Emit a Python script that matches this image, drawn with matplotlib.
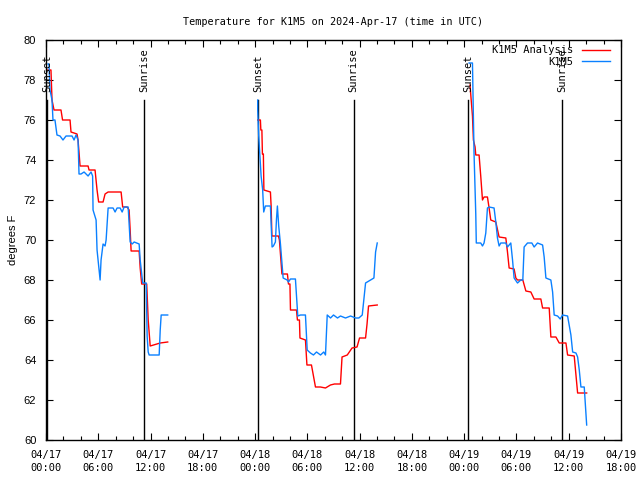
"""
Temperature for K1M5: analysis vs. observed, with sunset/sunrise markers.
"""

import numpy as np
import matplotlib
matplotlib.use('Agg')
import matplotlib.pyplot as plt
from matplotlib.ticker import MultipleLocator

NAN = np.nan

# hours since 04/17 00:00 UTC
analysis_hours = [
    0.11, 0.57, 0.69, 0.92, 1.72, 1.90, 2.76, 2.87, 3.56, 3.68, 3.91, 4.83, 4.94,
    5.63, 5.86, 6.04, 6.55, 6.78, 7.13, 8.62, 8.80, 9.31, 9.54, 9.66, 9.77, 10.69,
    10.81, 10.98, 11.56, 11.73, 11.96, 13.11, 13.97,
    NAN,
    24.30, 24.61, 24.66, 24.78, 24.84, 24.95, 25.01, 25.76, 25.84, 25.93, 26.68,
    26.79, 27.08, 27.71, 27.83, 28.00, 28.06, 28.75, 28.86, 29.09, 29.15, 29.78,
    29.95, 30.47, 30.70, 30.93, 31.50, 32.08, 32.65, 33.11, 33.80, 33.98, 34.58,
    35.13, 35.70, 35.99, 36.68, 36.85, 37.02, 38.02,
    NAN,
    48.67, 48.75, 48.95, 49.06, 49.25, 49.33, 49.71, 49.90, 50.10, 50.28, 50.67,
    50.86, 51.05, 51.63, 52.01, 52.78, 52.97, 53.16, 53.73, 53.93, 54.12, 54.73,
    55.08, 55.65, 56.03, 56.80, 57.00, 57.76, 57.95, 58.53, 58.91, 59.68, 59.87,
    60.63, 60.83, 61.02, 62.06,
]
analysis_temp = [
    78.5, 78.5, 77.0, 76.5, 76.5, 76.0, 76.0, 75.4, 75.3, 75.0, 73.7, 73.7, 73.5,
    73.5, 72.5, 71.9, 71.9, 72.3, 72.4, 72.4, 71.65, 71.65, 71.5, 70.5, 69.45, 69.45,
    68.6, 67.8, 67.8, 66.0, 64.7, 64.85, 64.9,
    NAN,
    76.0, 76.0, 75.5, 75.5, 74.3, 74.3, 72.5, 72.4, 71.7, 70.2, 70.2,
    70.0, 68.3, 68.3, 67.8, 67.8, 66.5, 66.5, 66.0, 66.0, 65.1, 65.0,
    63.75, 63.75, 63.2, 62.65, 62.65, 62.6, 62.75, 62.8, 62.8, 64.15, 64.25,
    64.6, 64.65, 65.1, 65.1, 65.8, 66.7, 66.75,
    NAN,
    77.75, 77.3, 76.2, 75.0, 74.65, 74.25, 74.25, 73.2, 72.0, 72.15, 72.15,
    71.6, 71.0, 70.9, 70.15, 70.1, 69.4, 68.6, 68.55, 68.1, 68.0, 68.0,
    67.45, 67.4, 67.05, 67.05, 66.6, 66.6, 65.15, 65.15, 64.85, 64.85, 64.25,
    64.2, 63.25, 62.35, 62.35,
]

obs_hours = [
    0.23, 0.34, 0.46, 0.69, 0.80, 1.03, 1.26, 1.61, 1.95, 2.30, 2.99, 3.22, 3.45,
    3.68, 3.79, 4.02, 4.37, 4.83, 5.17, 5.35, 5.40, 5.75, 5.86, 6.09, 6.21, 6.32,
    6.55, 6.78, 6.90, 7.13, 7.70, 7.93, 8.16, 8.51, 8.74, 8.97, 9.43, 9.66, 9.89,
    10.12, 10.69, 10.81, 11.10, 11.50, 11.61, 11.73, 11.84, 12.99, 13.11, 13.22, 13.97,
    NAN,
    24.30, 24.30, 24.41, 24.69, 24.87, 24.99, 25.18, 25.76, 25.87, 25.95, 26.10,
    26.33, 26.45, 26.56, 26.71, 26.91, 27.22, 27.68, 27.83, 28.06, 28.63, 28.90,
    29.21, 29.78, 29.98, 30.35, 30.70, 31.05, 31.51, 31.88, 32.08, 32.28, 32.66,
    33.00, 33.46, 33.80, 34.38, 34.96, 35.53, 35.91, 36.30, 36.68, 37.26, 37.64,
    37.83, 38.02,
    NAN,
    48.56, 48.95, 49.13, 49.33, 49.39, 49.90, 50.10, 50.28, 50.48, 50.67, 50.86,
    51.43, 51.63, 51.82, 52.01, 52.20, 52.78, 52.97, 53.35, 53.55, 53.73, 54.12,
    54.50, 54.73, 54.88, 55.27, 55.77, 56.03, 56.42, 57.00, 57.18, 57.38, 57.95,
    58.15, 58.33, 58.72, 59.02, 59.30, 59.87, 60.25, 60.45, 60.83, 61.02, 61.21,
    61.40, 61.78, 61.98, 62.06,
]
obs_temp = [
    78.8, 78.8, 77.5, 77.0, 76.0, 76.0, 75.25, 75.2, 75.0, 75.2, 75.2, 75.0, 75.25,
    75.0, 73.3, 73.3, 73.4, 73.2, 73.4, 73.2, 71.5, 71.0, 69.5, 68.5, 68.0, 69.0,
    69.8, 69.7, 70.0, 71.6, 71.6, 71.4, 71.6, 71.6, 71.4, 71.65, 71.65, 69.9, 69.8,
    69.9, 69.8, 69.0, 67.85, 67.85, 65.2, 64.4, 64.25, 64.25, 65.5, 66.25, 66.25,
    NAN,
    77.0, 76.5, 75.25, 73.2, 72.5, 71.4, 71.7, 71.7, 70.5, 69.65, 69.7,
    69.9, 71.0, 71.7, 70.7, 69.8, 68.1, 68.0, 67.9, 68.05, 68.05, 66.2,
    66.25, 66.25, 64.5, 64.35, 64.25, 64.4, 64.25, 64.4, 64.25, 66.25, 66.1,
    66.25, 66.1, 66.2, 66.1, 66.2, 66.1, 66.1, 66.25, 67.85, 68.0, 68.1,
    69.4, 69.85,
    NAN,
    78.85, 78.85, 74.35, 71.3, 69.85, 69.85, 69.7, 69.85, 70.35, 71.6, 71.65,
    71.6, 70.9, 70.1, 69.7, 69.85, 69.85, 69.65, 69.85, 69.0, 68.1, 67.85,
    68.0, 68.0, 69.65, 69.85, 69.85, 69.65, 69.85, 69.75, 69.15, 68.1, 68.0,
    67.4, 66.25, 66.2, 66.05, 66.25, 66.2, 65.25, 64.4, 64.35, 64.15, 63.5,
    62.65, 62.65, 61.35, 60.75,
]

sun_events = ['Sunset', 'Sunrise', 'Sunset', 'Sunrise', 'Sunset', 'Sunrise']
sun_hours = [0.15, 11.27, 24.38, 35.30, 48.41, 59.22]

xtick_labels = [
    '04/17\n00:00', '04/17\n06:00', '04/17\n12:00', '04/17\n18:00',
    '04/18\n00:00', '04/18\n06:00', '04/18\n12:00', '04/18\n18:00',
    '04/19\n00:00', '04/19\n06:00', '04/19\n12:00', '04/19\n18:00',
]

MONO = 'DejaVu Sans Mono'
SANS = 'Liberation Sans'

fig = plt.figure(figsize=(6.4, 4.8), dpi=100)
ax = fig.add_axes([46 / 640, 40 / 480, 575 / 640, 400 / 480])

# sunrise / sunset markers
for name, h in zip(sun_events, sun_hours):
    ax.plot([h, h], [60, 77], color='black', linewidth=1.0)
    ax.text(h, 77.4, name, rotation=90, ha='center', va='bottom',
            fontsize=7.5, family=MONO)

ax.plot(analysis_hours, analysis_temp, color='#ff0000', linewidth=1.0,
        label='K1M5 Analysis')
ax.plot(obs_hours, obs_temp, color='#0a80ff', linewidth=1.0, label='K1M5')

ax.set_xlim(0, 66)
ax.set_ylim(60, 80)
ax.set_xticks(np.arange(0, 67, 6))
ax.set_xticklabels(xtick_labels, family=MONO, fontsize=7.5, linespacing=1.45)
ax.xaxis.set_minor_locator(MultipleLocator(2))
ax.set_yticks(np.arange(60, 81, 2))
for lbl in ax.get_yticklabels():
    lbl.set_family(SANS)
    lbl.set_fontsize(8)

ax.tick_params(which='both', direction='in', top=True, right=True, width=0.8)
ax.tick_params(axis='x', which='major', length=5, pad=7)
ax.tick_params(axis='y', which='major', length=5, pad=7)
ax.tick_params(which='minor', length=3)
for s in ax.spines.values():
    s.set_linewidth(1.0)

ax.set_ylabel('degrees F', family=SANS, fontsize=8, labelpad=4)
ax.set_title('Temperature for K1M5 on 2024-Apr-17 (time in UTC)',
             family=MONO, fontsize=7.3, pad=11)

leg = ax.legend(loc='upper right', bbox_to_anchor=(0.988, 0.9975),
                frameon=False, markerfirst=False,
                prop={'family': MONO, 'size': 7.5}, handlelength=2.7,
                borderaxespad=0.0, labelspacing=0.15, handletextpad=0.8,
                borderpad=0.4)
for t in leg.get_texts():
    t.set_ha('right')

fig.savefig('out.png', dpi=100)
